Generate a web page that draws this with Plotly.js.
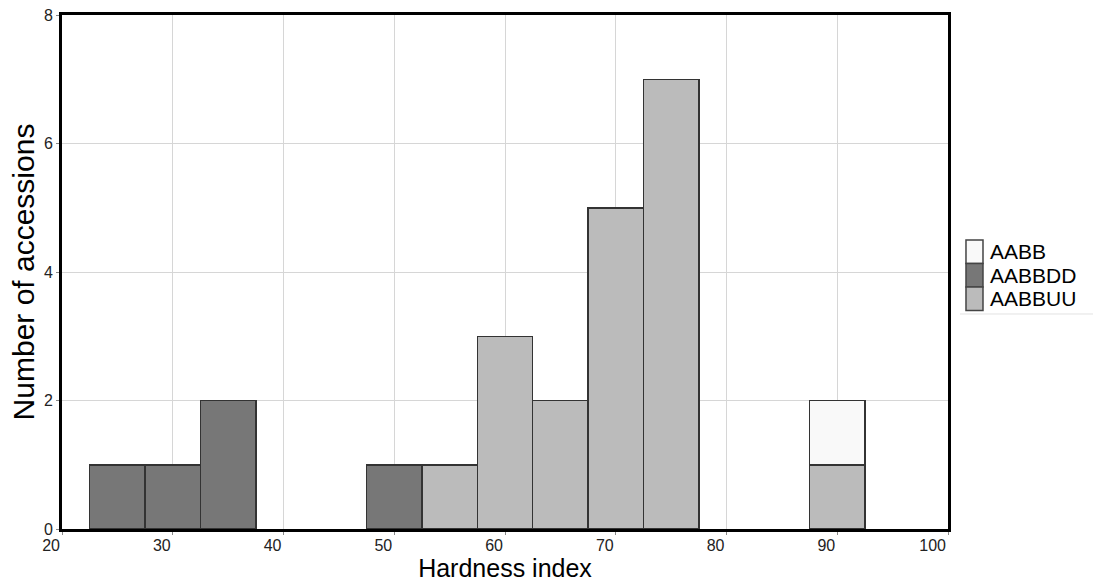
<!DOCTYPE html>
<html>
<head>
<meta charset="utf-8">
<script src="https://cdn.plot.ly/plotly-3.0.1.min.js"></script>
<style>html,body{margin:0;padding:0;background:#fff;}#chart{width:1102px;height:582px;}</style>
</head>
<body>
<div id="chart"></div>
<script>
const ddX = [25, 30, 35, 50];
const ddY = [1, 1, 2, 1];
const uuX = [55, 60, 65, 70, 75, 90];
const uuY = [1, 3, 2, 5, 7, 1];
const abX = [90];
const abY = [1];
const xTicks = [20, 30, 40, 50, 60, 70, 80, 90, 100];
const yTicks = [0, 2, 4, 6, 8];
const legendNames = ['AABB', 'AABBDD', 'AABBUU'];
const legendColors = ['#f9f9f9', '#777777', '#bbbbbb'];

const line = {color: '#333333', width: 1.5};
const traces = [
  {type: 'bar', name: 'AABBDD', x: ddX, y: ddY, width: 5, marker: {color: legendColors[1], line: line}, showlegend: false},
  {type: 'bar', name: 'AABBUU', x: uuX, y: uuY, width: 5, marker: {color: legendColors[2], line: line}, showlegend: false},
  {type: 'bar', name: 'AABB', x: abX, y: abY, width: 5, marker: {color: legendColors[0], line: line}, showlegend: false}
];

// custom legend (stacked, touching swatches as in the reference)
const legTop = 0.5623, legStep = 0.0457, swX0 = 1.0203, swX1 = 1.0395, txX = 1.0463;
const shapes = [];
const annotations = [];
legendNames.forEach((n, i) => {
  const y1 = legTop - i * legStep, y0 = y1 - legStep;
  shapes.push({type: 'rect', xref: 'paper', yref: 'paper', x0: swX0, x1: swX1, y0: y0, y1: y1,
    fillcolor: legendColors[i], line: {color: '#444', width: 1.5}});
  annotations.push({xref: 'paper', yref: 'paper', x: txX, y: (y0 + y1) / 2, xanchor: 'left', yanchor: 'middle',
    text: n, showarrow: false, borderpad: 0, font: {size: 21, color: '#000'}});
});
shapes.push({type: 'line', xref: 'paper', yref: 'paper', x0: 1.0135, x1: 1.1637, y0: 0.4183, y1: 0.4183,
  line: {color: '#e2e2e2', width: 1}});

const layout = {
  width: 1102, height: 582,
  margin: {l: 62, r: 154, t: 15, b: 53, autoexpand: false},
  paper_bgcolor: '#ffffff', plot_bgcolor: '#ffffff',
  barmode: 'stack', bargap: 0,
  font: {family: 'Liberation Sans, Arial, sans-serif', color: '#222'},
  xaxis: {
    range: [20, 100], tickvals: xTicks, ticktext: xTicks.map(String),
    showgrid: true, gridcolor: '#d6d6d6', gridwidth: 1,
    showline: true, linecolor: '#000', linewidth: 3, mirror: true,
    ticks: 'outside', ticklen: 3, tickcolor: '#888', tickwidth: 1,
    ticklabelposition: 'outside left',
    tickfont: {size: 16, color: '#222'}, zeroline: false,
    title: {text: 'Hardness index', font: {size: 25, color: '#000'}, standoff: 1}
  },
  yaxis: {
    range: [0, 8], tickvals: yTicks, ticktext: yTicks.map(String),
    showgrid: true, gridcolor: '#d6d6d6', gridwidth: 1,
    showline: true, linecolor: '#000', linewidth: 3, mirror: true,
    ticks: 'outside', ticklen: 3, tickcolor: '#888', tickwidth: 1,
    tickfont: {size: 16, color: '#222'}, zeroline: false,
    title: {text: 'Number of accessions', font: {size: 30, color: '#000'}, standoff: 1}
  },
  shapes: shapes,
  annotations: annotations,
  showlegend: false
};
Plotly.newPlot('chart', traces, layout, {displayModeBar: false, staticPlot: true});
</script>
</body>
</html>
